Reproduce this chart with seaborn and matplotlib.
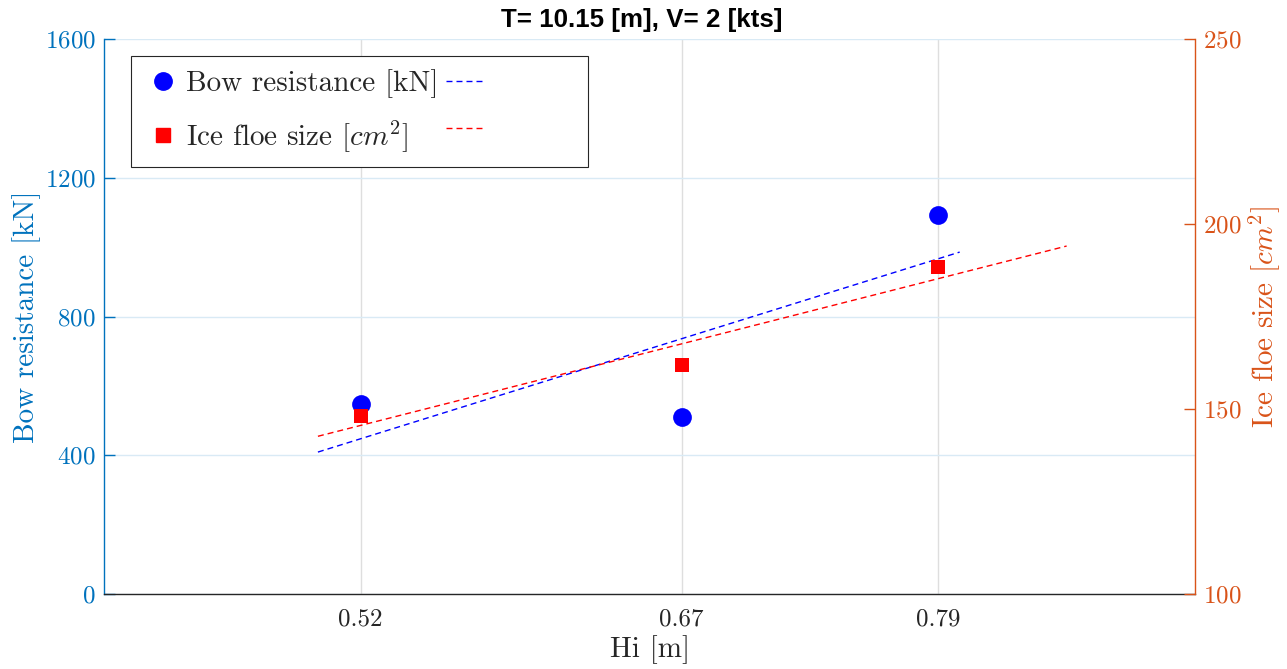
import numpy as np
import pandas as pd
import matplotlib
matplotlib.use("Agg")
import matplotlib.pyplot as plt
import seaborn as sns
from matplotlib.lines import Line2D

# Measured data
hi = [0.52, 0.67, 0.79]
bow_resistance = [548, 510, 1092]
floe_size = [148.1, 161.9, 188.4]

# Extent of the fitted trend lines along Hi
bow_fit_range = [0.50, 0.80]
floe_fit_range = [0.50, 0.85]

x_ticks = [0.52, 0.67, 0.79]
x_tick_labels = ["0.52", "0.67", "0.79"]
left_ticks = [0, 400, 800, 1200, 1600]
right_ticks = [100, 150, 200, 250]

sns.set_style("white")
plt.rcParams.update({
    "font.family": ["cmr10", "DejaVu Sans"],
    "mathtext.fontset": "cm",
    "axes.formatter.use_mathtext": True,
    "axes.unicode_minus": False,
})

BLUE_AX = "#0072BD"
ORANGE_AX = "#D95319"
DARK = "#262626"

W, H = 1287, 669
fig = plt.figure(figsize=(W / 100, H / 100), dpi=100)
ax = fig.add_axes([104 / W, 1 - 594 / H, 1091 / W, 555 / H])
ax2 = ax.twinx()

# Linear fits
bow_coef = np.polyfit(hi, bow_resistance, 1)
floe_coef = np.polyfit(hi, floe_size, 1)
bow_fit = pd.DataFrame({"x": bow_fit_range, "y": np.polyval(bow_coef, bow_fit_range)})
floe_fit = pd.DataFrame({"x": floe_fit_range, "y": np.polyval(floe_coef, floe_fit_range)})

dash = (0, (4.3, 2.9))

sns.lineplot(data=bow_fit, x="x", y="y", ax=ax, color="blue", linestyle=dash, lw=1.0)
sns.scatterplot(x=hi, y=bow_resistance, ax=ax, color="blue", marker="o",
                s=13.5 ** 2, linewidth=0, zorder=3)

sns.lineplot(data=floe_fit, x="x", y="y", ax=ax2, color="red", linestyle=dash, lw=1.0)
sns.scatterplot(x=hi, y=floe_size, ax=ax2, color="red", marker="s",
                s=10.5 ** 2, linewidth=0, zorder=3)

# Axes limits and ticks
ax.set_xlim(0.40, 0.91)
ax.set_ylim(0, 1600)
ax2.set_ylim(100, 250)
ax.set_xticks(x_ticks, labels=x_tick_labels)
ax.set_yticks(left_ticks)
ax2.set_yticks(right_ticks)

ax.grid(True, axis="x", color="#dedede", lw=1.0)
ax.grid(True, axis="y", color="#d9eaf5", lw=1.0)
ax2.grid(False)
ax.set_axisbelow(True)

ax.spines["top"].set_visible(False)
ax2.spines["top"].set_visible(False)
ax.spines["right"].set_visible(False)
ax2.spines["left"].set_visible(False)
ax2.spines["bottom"].set_visible(False)
ax.spines["left"].set_color(BLUE_AX)
ax.spines["bottom"].set_color(DARK)
ax2.spines["right"].set_color(ORANGE_AX)
for s in [ax.spines["left"], ax.spines["bottom"], ax2.spines["right"]]:
    s.set_linewidth(1.0)

ax.tick_params(axis="x", direction="in", length=8, width=1, colors=DARK,
               labelsize=18, pad=10)
ax.tick_params(axis="y", direction="in", length=8, width=1, colors=BLUE_AX,
               labelsize=18, pad=6, left=True)
ax2.tick_params(axis="y", direction="in", length=8, width=1, colors=ORANGE_AX,
                labelsize=18, pad=6, right=True)

ax.set_xlabel("Hi [m]", fontsize=21, color=DARK, labelpad=4)
ax.set_ylabel("Bow resistance [kN]", fontsize=21, color=BLUE_AX, labelpad=3)
ax2.set_ylabel(r"Ice floe size $[cm^2]$", fontsize=21, color=ORANGE_AX, labelpad=3)

ax.set_title("T= 10.15 [m], V= 2 [kts]", fontfamily="Liberation Sans",
             fontweight="bold", fontsize=18.6, color="black", pad=9, x=0.493)

# Legend: markers with labels, fit lines in a second column
pad_label = "\u2002" * 6
handles = [
    Line2D([], [], marker="o", color="blue", ls="none", markersize=12.5),
    Line2D([], [], marker="s", color="red", ls="none", markersize=9.5),
    Line2D([], [], color="blue", ls=dash, lw=1.0),
    Line2D([], [], color="red", ls=dash, lw=1.0),
]
labels = ["Bow resistance [kN]", r"Ice floe size $[cm^2]$", pad_label, pad_label]
leg = ax2.legend(handles, labels, ncol=2, loc="upper left",
                 bbox_to_anchor=(27 / 1091, 1 - 17 / 555), borderaxespad=0,
                 prop={"family": ["cmr10", "DejaVu Sans"], "size": 21},
                 frameon=True, fancybox=False, framealpha=1,
                 edgecolor=DARK, handlelength=1.27, handletextpad=0.15,
                 columnspacing=0.27, labelspacing=0.7, borderpad=0.45)
leg.get_frame().set_linewidth(0.8)

fig.savefig("out.png", dpi=100)
